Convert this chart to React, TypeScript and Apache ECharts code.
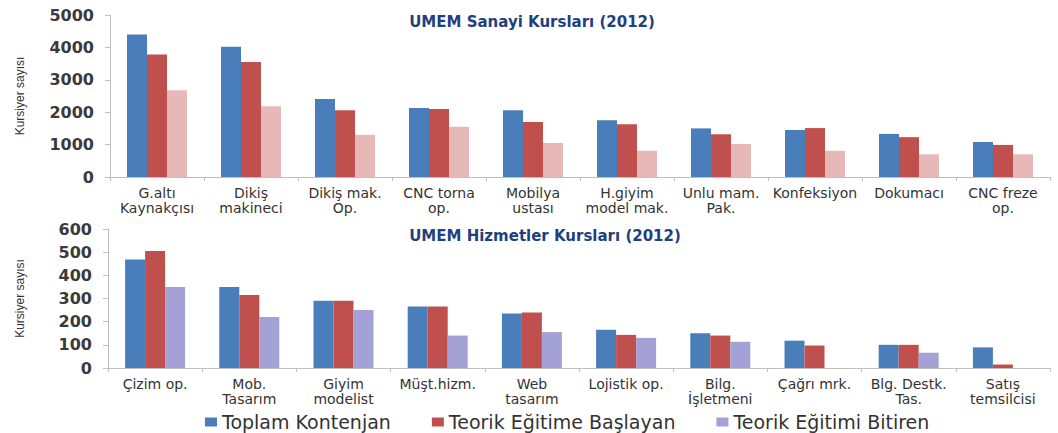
import React, { useEffect, useRef } from "react";
import * as echarts from "echarts";

const topTitle = "UMEM Sanayi Kursları (2012)";
const bottomTitle = "UMEM Hizmetler Kursları (2012)";
const yName = "Kursiyer sayısı";
const seriesNames = ["Toplam Kontenjan", "Teorik Eğitime Başlayan", "Teorik Eğitimi Bitiren"];

const topCategories = [
  "G.altı\nKaynakçısı",
  "Dikiş\nmakineci",
  "Dikiş mak.\nOp.",
  "CNC torna\nop.",
  "Mobilya\nustası",
  "H.giyim\nmodel mak.",
  "Unlu mam.\nPak.",
  "Konfeksiyon",
  "Dokumacı",
  "CNC freze\nop.",
];
const topToplam = [4400, 4020, 2410, 2130, 2060, 1750, 1500, 1450, 1330, 1080];
const topBaslayan = [3780, 3550, 2060, 2100, 1700, 1630, 1320, 1510, 1230, 990];
const topBitiren = [2680, 2180, 1300, 1550, 1050, 810, 1020, 810, 700, 700];

const bottomCategories = [
  "Çizim op.",
  "Mob.\nTasarım",
  "Giyim\nmodelist",
  "Müşt.hizm.",
  "Web\ntasarım",
  "Lojistik op.",
  "Bilg.\nİşletmeni",
  "Çağrı mrk.",
  "Blg. Destk.\nTas.",
  "Satış\ntemsilcisi",
];
const bottomToplam = [468, 350, 290, 265, 235, 165, 150, 118, 100, 89];
const bottomBaslayan = [505, 315, 290, 265, 240, 143, 140, 97, 100, 15];
const bottomBitiren = [350, 220, 250, 140, 155, 130, 113, 0, 66, 0];

const topTicks = { min: 0, max: 5000, interval: 1000 };
const bottomTicks = { min: 0, max: 600, interval: 100 };

const BLUE = "#4A7EBB";
const RED = "#C0504D";
const PINK = "#E6B9B8";
const LAVENDER = "#A3A1D6";

export default function App() {
  const ref = useRef<HTMLDivElement>(null);
  useEffect(() => {
    if (!ref.current) return;
    const chart = echarts.init(ref.current, null, { renderer: "svg" });
    const axisLine = { show: true, lineStyle: { color: "#BFBFBF", width: 1 } };
    const catLabel = {
      interval: 0,
      fontFamily: "DejaVu Sans",
      fontSize: 14,
      color: "#333",
      lineHeight: 15,
      margin: 8,
    };
    const valLabel = {
      fontFamily: "DejaVu Sans",
      fontWeight: "bold",
      fontSize: 16,
      color: "#3a3a3a",
      margin: 16,
      formatter: (v: number) => String(v),
    };
    const yNameStyle = {
      fontFamily: "Liberation Sans",
      fontSize: 12,
      color: "#333",
    };
    const bar = (name: string, data: number[], color: string, idx: number) => ({
      type: "bar",
      name,
      data,
      xAxisIndex: idx,
      yAxisIndex: idx,
      barWidth: 20,
      barGap: "0%",
      itemStyle: { color },
    });
    chart.setOption({
      animation: false,
      title: [
        {
          text: topTitle,
          left: 532,
          top: 14,
          padding: 0,
          textAlign: "center",
          textStyle: { fontFamily: "DejaVu Sans", fontWeight: "bold", fontSize: 15, color: "#1F3F80" },
        },
        {
          text: bottomTitle,
          left: 545,
          top: 228,
          padding: 0,
          textAlign: "center",
          textStyle: { fontFamily: "DejaVu Sans", fontWeight: "bold", fontSize: 15, color: "#1F3F80" },
        },
      ],
      legend: {
        left: 205,
        top: 412,
        padding: 0,
        itemWidth: 12,
        itemHeight: 9,
        itemGap: 41,
        icon: "rect",
        textStyle: { fontFamily: "DejaVu Sans", fontSize: 19, color: "#333", lineHeight: 20 },
        data: [
          { name: seriesNames[0], itemStyle: { color: BLUE } },
          { name: seriesNames[1], itemStyle: { color: RED } },
          { name: seriesNames[2], itemStyle: { color: LAVENDER } },
        ],
      },
      grid: [
        { left: 110, right: 8, top: 15, height: 162 },
        { left: 108, right: 8, top: 229, height: 139 },
      ],
      xAxis: [
        {
          type: "category",
          gridIndex: 0,
          data: topCategories,
          axisLine,
          axisTick: { show: true, length: 4, lineStyle: { color: "#BFBFBF" } },
          axisLabel: catLabel,
        },
        {
          type: "category",
          gridIndex: 1,
          data: bottomCategories,
          axisLine,
          axisTick: { show: true, length: 4, lineStyle: { color: "#BFBFBF" } },
          axisLabel: catLabel,
        },
      ],
      yAxis: [
        {
          type: "value",
          gridIndex: 0,
          ...topTicks,
          name: yName,
          nameLocation: "middle",
          nameGap: 84,
          nameTextStyle: yNameStyle,
          axisLine,
          axisTick: { show: true, length: 5, lineStyle: { color: "#BFBFBF" } },
          splitLine: { show: false },
          axisLabel: valLabel,
        },
        {
          type: "value",
          gridIndex: 1,
          ...bottomTicks,
          name: yName,
          nameLocation: "middle",
          nameGap: 82,
          nameTextStyle: yNameStyle,
          axisLine,
          axisTick: { show: true, length: 5, lineStyle: { color: "#BFBFBF" } },
          splitLine: { show: false },
          axisLabel: valLabel,
        },
      ],
      series: [
        bar(seriesNames[0], bottomToplam, BLUE, 1),
        bar(seriesNames[1], bottomBaslayan, RED, 1),
        bar(seriesNames[2], bottomBitiren, LAVENDER, 1),
        bar(seriesNames[0], topToplam, BLUE, 0),
        bar(seriesNames[1], topBaslayan, RED, 0),
        bar(seriesNames[2], topBitiren, PINK, 0),
      ],
    });
    return () => chart.dispose();
  }, []);
  return (
    <div
      ref={ref}
      style={{ position: "absolute", left: 0, top: 0, width: 1058, height: 433, background: "#fff" }}
    />
  );
}
